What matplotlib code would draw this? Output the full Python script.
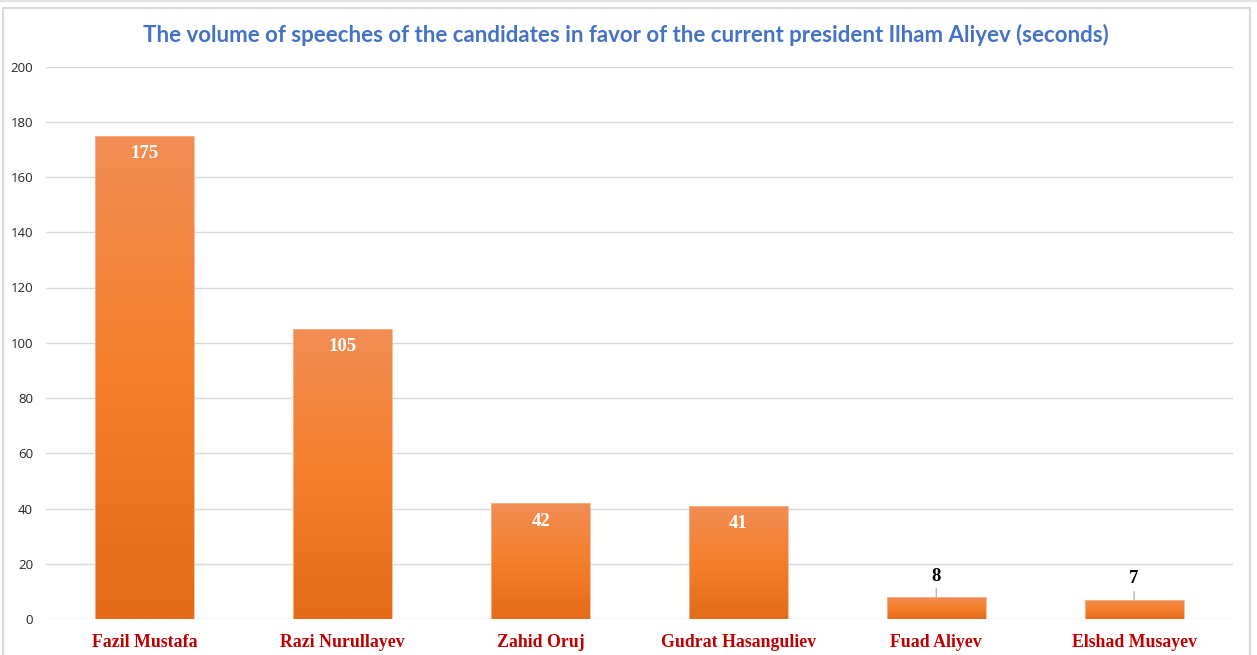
import numpy as np
import matplotlib
matplotlib.use("Agg")
import matplotlib.pyplot as plt
from matplotlib.colors import LinearSegmentedColormap
from matplotlib.patches import Rectangle
from matplotlib.lines import Line2D

# Data
candidates = ["Fazil Mustafa", "Razi Nurullayev", "Zahid Oruj",
              "Gudrat Hasanguliev", "Fuad Aliyev", "Elshad Musayev"]
seconds = [175, 105, 42, 41, 8, 7]
y_ticks = [0, 20, 40, 60, 80, 100, 120, 140, 160, 180, 200]
title = "The volume of speeches of the candidates in favor of the current president Ilham Aliyev (seconds)"

W, H, DPI = 1257, 655, 100
fig = plt.figure(figsize=(W / DPI, H / DPI), dpi=DPI)
fig.patch.set_facecolor("white")

ax = fig.add_axes([46 / W, 1 - 619 / H, (1233 - 46) / W, (619 - 66.5) / H])
ax.set_facecolor("white")

# Orange gradient, lighter at the top of every bar
grad_cmap = LinearSegmentedColormap.from_list(
    "bar_grad", [(0.0, "#E36B19"), (0.55, "#F5812F"), (1.0, "#F18D55")])

x = np.arange(len(candidates))
bars = ax.bar(x, seconds, width=0.5, color="none", edgecolor="none", zorder=3)
grad = np.linspace(0, 1, 256).reshape(-1, 1)
for patch in bars:
    x0, y0 = patch.get_x(), patch.get_y()
    w, h = patch.get_width(), patch.get_height()
    im = ax.imshow(grad, cmap=grad_cmap, origin="lower", aspect="auto",
                   extent=[x0, x0 + w, y0, y0 + h], zorder=3,
                   interpolation="bilinear")
    im.set_clip_path(patch)
    # faint light edge around each bar
    ax.add_patch(Rectangle((x0, y0), w, h, fill=False, edgecolor="#F6B48C",
                           lw=0.6, zorder=4))

ax.set_xlim(-0.5, len(candidates) - 0.5)
ax.set_ylim(0, 200)
ax.set_yticks(y_ticks)
ax.set_yticklabels([str(t) for t in y_ticks], fontsize=9.5, color="#262626",
                   fontfamily="Open Sans")
ax.set_xticks(x)
ax.set_xticklabels(candidates, fontsize=12.8, fontweight="bold",
                   color="#C00000", fontfamily="Liberation Serif")
ax.tick_params(axis="both", length=0)
ax.tick_params(axis="y", pad=9.4)
ax.tick_params(axis="x", pad=10.5)
for s in ax.spines.values():
    s.set_visible(False)
ax.grid(axis="y", color="#D9D9D9", lw=1.0, zorder=0)
ax.set_axisbelow(True)

# Value labels: inside the bar top, or above short bars with a leader line
for xi, v in zip(x, seconds):
    if v >= 20:
        ax.annotate(str(v), xy=(xi, v), xytext=(0, -13), textcoords="offset points",
                    ha="center", va="center", color="white", fontsize=13.5,
                    fontweight="bold", fontfamily="Liberation Serif", zorder=5)
    else:
        ax.annotate(str(v), xy=(xi, v), xytext=(0, 15), textcoords="offset points",
                    ha="center", va="center", color="black", fontsize=13.5,
                    fontweight="bold", fontfamily="Liberation Serif", zorder=5,
                    arrowprops=dict(arrowstyle="-", color="#A6A6A6", lw=0.8,
                                    shrinkA=1, shrinkB=0))

fig.text(626 / W, 1 - 35 / H, title, ha="center", va="center",
         fontsize=16, fontweight="bold", color="#4472C4", fontfamily="Lato")

# Chart frame
fig.add_artist(Rectangle((3 / W, -0.05), (1250 - 3) / W, 1.05 - 8 / H,
                         transform=fig.transFigure, fill=False,
                         edgecolor="#D9D9D9", lw=1.5))
fig.add_artist(Line2D([0, 1], [1 - 0.8 / H, 1 - 0.8 / H], transform=fig.transFigure,
                      color="#E3E3E3", lw=1.5))

fig.savefig("out.png", dpi=DPI, facecolor="white")
